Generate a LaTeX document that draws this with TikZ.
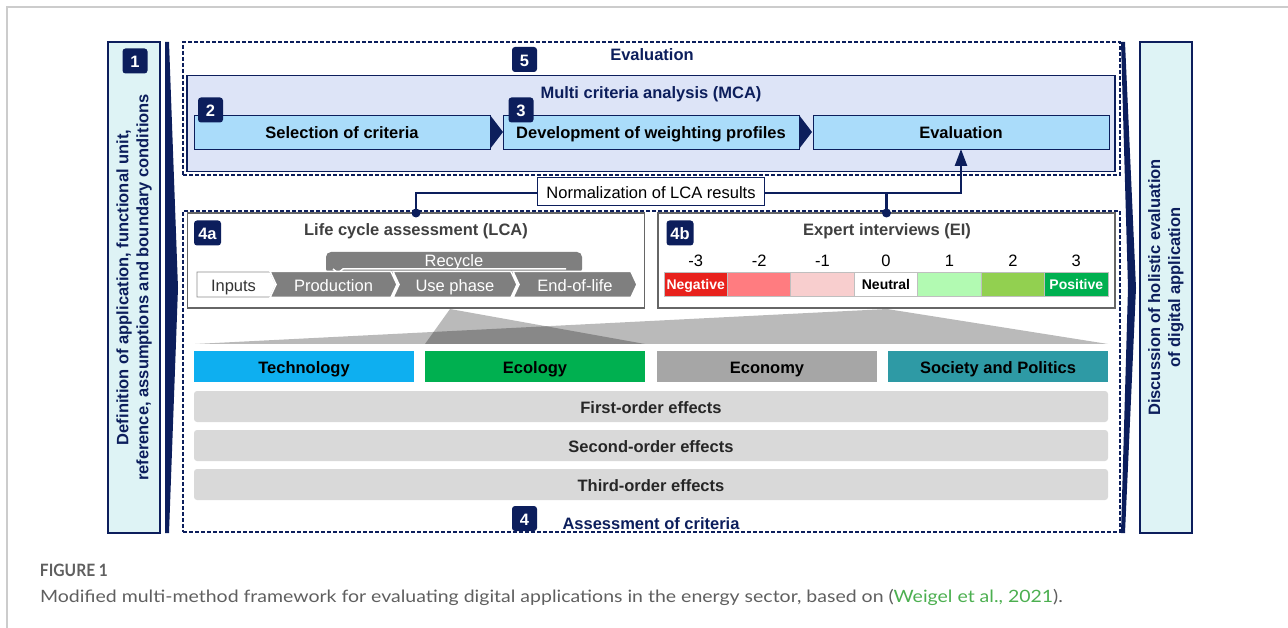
\documentclass[tikz,border=0pt]{standalone}
\usepackage{graphicx}
\usepackage{fontspec}
\setmainfont{Liberation Sans}
\newfontfamily\capfont{Lato}
\usetikzlibrary{arrows.meta,shapes.symbols,positioning}

\definecolor{navy}{RGB}{12,30,92}
\definecolor{sidecyan}{RGB}{222,243,245}
\definecolor{mcafill}{RGB}{221,228,247}
\definecolor{stepblue}{RGB}{170,220,250}
\definecolor{lcagray}{RGB}{127,127,127}
\definecolor{titlegray}{RGB}{64,64,64}
\definecolor{negred}{RGB}{232,33,28}
\definecolor{negmid}{RGB}{255,124,128}
\definecolor{neglight}{RGB}{248,206,206}
\definecolor{poslight}{RGB}{178,250,178}
\definecolor{posmid}{RGB}{146,208,80}
\definecolor{posgreen}{RGB}{0,176,80}
\definecolor{techblue}{RGB}{14,175,240}
\definecolor{ecogreen}{RGB}{0,176,80}
\definecolor{econgray}{RGB}{166,166,166}
\definecolor{socteal}{RGB}{46,154,165}
\definecolor{effgray}{RGB}{217,217,217}
\definecolor{capgray}{RGB}{95,95,95}
\definecolor{linkgreen}{RGB}{76,175,80}

\newcommand{\txtsize}{\fontsize{16.5}{20}\selectfont}

\begin{document}
\begin{tikzpicture}[x=1pt,y=-1pt,
    every node/.style={inner sep=0pt,outer sep=0pt,font=\txtsize},
    onel/.style={text height=14pt,text depth=0pt},
    badge/.style={onel,fill=navy,text=white,rounded corners=3pt,minimum width=25pt,minimum height=25pt,font=\txtsize\bfseries},
    dashbox/.style={draw=navy,line width=1.3pt,dash pattern=on 4pt off 2pt},
    sidebox/.style={draw=navy,line width=1.5pt,fill=sidecyan,rotate=90,align=center,minimum width=491pt,minimum height=52pt,text=navy,font=\txtsize\bfseries},
    stepbox/.style={onel,draw=navy,line width=0.6pt,fill=stepblue,minimum width=296pt,minimum height=34pt,font=\txtsize\bfseries},
    stagebox/.style={draw=black!60,line width=1.5pt,fill=white,minimum width=457pt,minimum height=95pt},
    phase/.style={onel,signal,signal to=east,signal from=west,signal pointer angle=130,fill=lcagray,draw=white,line width=1.5pt,text=white,minimum height=26pt},
    cell/.style={draw=black!25,line width=0.8pt,minimum width=63.4pt,minimum height=24pt,text height=11pt,text depth=0pt,font=\fontsize{14}{16}\selectfont\bfseries},
    crit/.style={onel,minimum width=220pt,minimum height=30pt,font=\txtsize\bfseries},
    effect/.style={onel,fill=effgray,rounded corners=3pt,minimum width=914pt,minimum height=31pt,text=black!85,font=\txtsize\bfseries},
    conn/.style={draw=navy,line width=2.5pt}
  ]
  \useasboundingbox (0,0) rectangle (1288,628);
  \draw[black!20,line width=1.2pt] (7,628) -- (7,7) -- (1288,7);

  % side columns
  \node[sidebox] (define) at (134,287.5) {Definition of application, functional unit,\\reference, assumptions and boundary conditions};
  \node[badge] (b1) at (135,61) {1};
  \node[sidebox] (discuss) at (1166,287.5) {Discussion of holistic evaluation\\of digital application};
  \fill[navy] (165,42) -- (169,42) -- (178,288) -- (169,533) -- (165,533) -- cycle;
  \fill[navy] (1121,42) -- (1125,42) -- (1136,288) -- (1125,533) -- (1121,533) -- (1128,288) -- cycle;

  % evaluation / MCA
  \node[dashbox,minimum width=937pt,minimum height=133pt] (evalarea) at (651.5,108.5) {};
  \node[onel,text=navy,font=\txtsize\bfseries] at (652,54) {Evaluation};
  \node[badge] (b5) at (524.5,59.5) {5};
  \node[draw=navy,line width=1.5pt,fill=mcafill,minimum width=928pt,minimum height=96pt] (mca) at (651,123.5) {};
  \node[onel,text=navy,font=\txtsize\bfseries] at (651,92) {Multi criteria analysis (MCA)};
  \node[stepbox] (select) at (342,132) {Selection of criteria};
  \node[stepbox] (weight) at (651,132) {Development of weighting profiles};
  \node[stepbox] (evalstep) at (961,132) {Evaluation};
  \fill[navy] (select.north east) -- ([xshift=13pt]select.east) -- (select.south east) -- cycle;
  \fill[navy] (weight.north east) -- ([xshift=13pt]weight.east) -- (weight.south east) -- cycle;
  \node[badge] (b2) at (210.5,110) {2};
  \node[badge] (b3) at (521,110) {3};

  % assessment of criteria
  \node[dashbox,minimum width=937pt,minimum height=321pt] (assess) at (651.5,371.5) {};
  \node[badge] (b4) at (524.5,518.5) {4};
  \node[onel,text=navy,font=\txtsize\bfseries] at (651,522) {Assessment of criteria};

  \node[stagebox] (lca) at (416,260.5) {};
  \node[stagebox] (ei) at (886.5,260.5) {};
  \node[badge,minimum width=27pt] (b4a) at (207.5,233) {4a};
  \node[badge,minimum width=27pt] (b4b) at (680,233) {4b};
  \node[onel,text=titlegray,font=\txtsize\bfseries] at (416,229) {Life cycle assessment (LCA)};
  \node[onel,text=titlegray,font=\txtsize\bfseries] at (887,229) {Expert interviews (EI)};

  % LCA phases
  \fill[lcagray,rounded corners=5pt] (326,274) -- (326,252) -- (582,252) -- (582,274) -- cycle;
  \node[onel,text=white] (recycle) at (454,260) {Recycle};
  \draw[white,line width=1.5pt] (566,269) -- (343,269) -- (338,273) -- (333,269);
  \node[onel,signal,signal to=east,signal pointer angle=130,draw=black!45,fill=white,line width=0.8pt,minimum width=79pt,minimum height=25pt,text=black!80] (inputs) at (233.5,284.5) {Inputs};
  \node[phase,minimum width=127pt] (prod) at (333.5,284.5) {Production};
  \node[phase,minimum width=124pt] (use) at (455,284.5) {Use phase};
  \node[phase,minimum width=124pt] (eol) at (575,284.5) {End-of-life};

  % EI scale
  \foreach \v/\c/\t/\tc [count=\i from 0] in {-3/negred/Negative/white,-2/negmid//black,-1/neglight//black,0/white/Neutral/black,1/poslight//black,2/posmid//black,3/posgreen/Positive/white}{
    \node[cell,fill=\c,text=\tc] (cell\i) at ({695.7+63.43*\i},284) {\t};
    \node[above=5pt of cell\i] {\v};
  }

  % fans
  \fill[black,fill opacity=0.27] (450,309) -- (425,344) -- (645,344) -- cycle;
  \fill[black,fill opacity=0.27] (887,309) -- (195,344) -- (1108,344) -- cycle;

  \node[crit,fill=techblue] (tech) at (304,366.5) {Technology};
  \node[crit,fill=ecogreen] (eco) at (535,366.5) {Ecology};
  \node[crit,fill=econgray] (econ) at (767,366.5) {Economy};
  \node[crit,fill=socteal] (soc) at (998,366.5) {Society and Politics};
  \node[effect] (first) at (651,406.5) {First-order effects};
  \node[effect] (second) at (651,445.5) {Second-order effects};
  \node[effect] (third) at (651,484.5) {Third-order effects};

  % normalization link
  \draw[conn,-{Triangle[length=17pt,width=12pt]}] (lca.north) -- ++(0,-20) -| (evalstep.south);
  \draw[conn] (ei.north) -- ++(0,-20);
  \fill[navy] (lca.north) circle (4.5pt) (ei.north) circle (4.5pt);
  \node[onel,draw=navy,line width=1.2pt,fill=white,minimum width=227pt,minimum height=28pt] (norm) at (651,191.5) {Normalization of LCA results};

  % caption
  \node[anchor=west,text=capgray,font=\capfont\fontsize{17}{20}\selectfont\bfseries] (figlabel) at (40,570) {\resizebox{68pt}{\height}{FIGURE 1}};
  \node[anchor=west,text=capgray,font=\capfont\fontsize{17}{20}\selectfont] (caption) at (40,597) {\resizebox{1023pt}{\height}{Modified multi-method framework for evaluating digital applications in the energy sector, based on (\textcolor{linkgreen}{Weigel et al., 2021}).}};
\end{tikzpicture}
\end{document}
